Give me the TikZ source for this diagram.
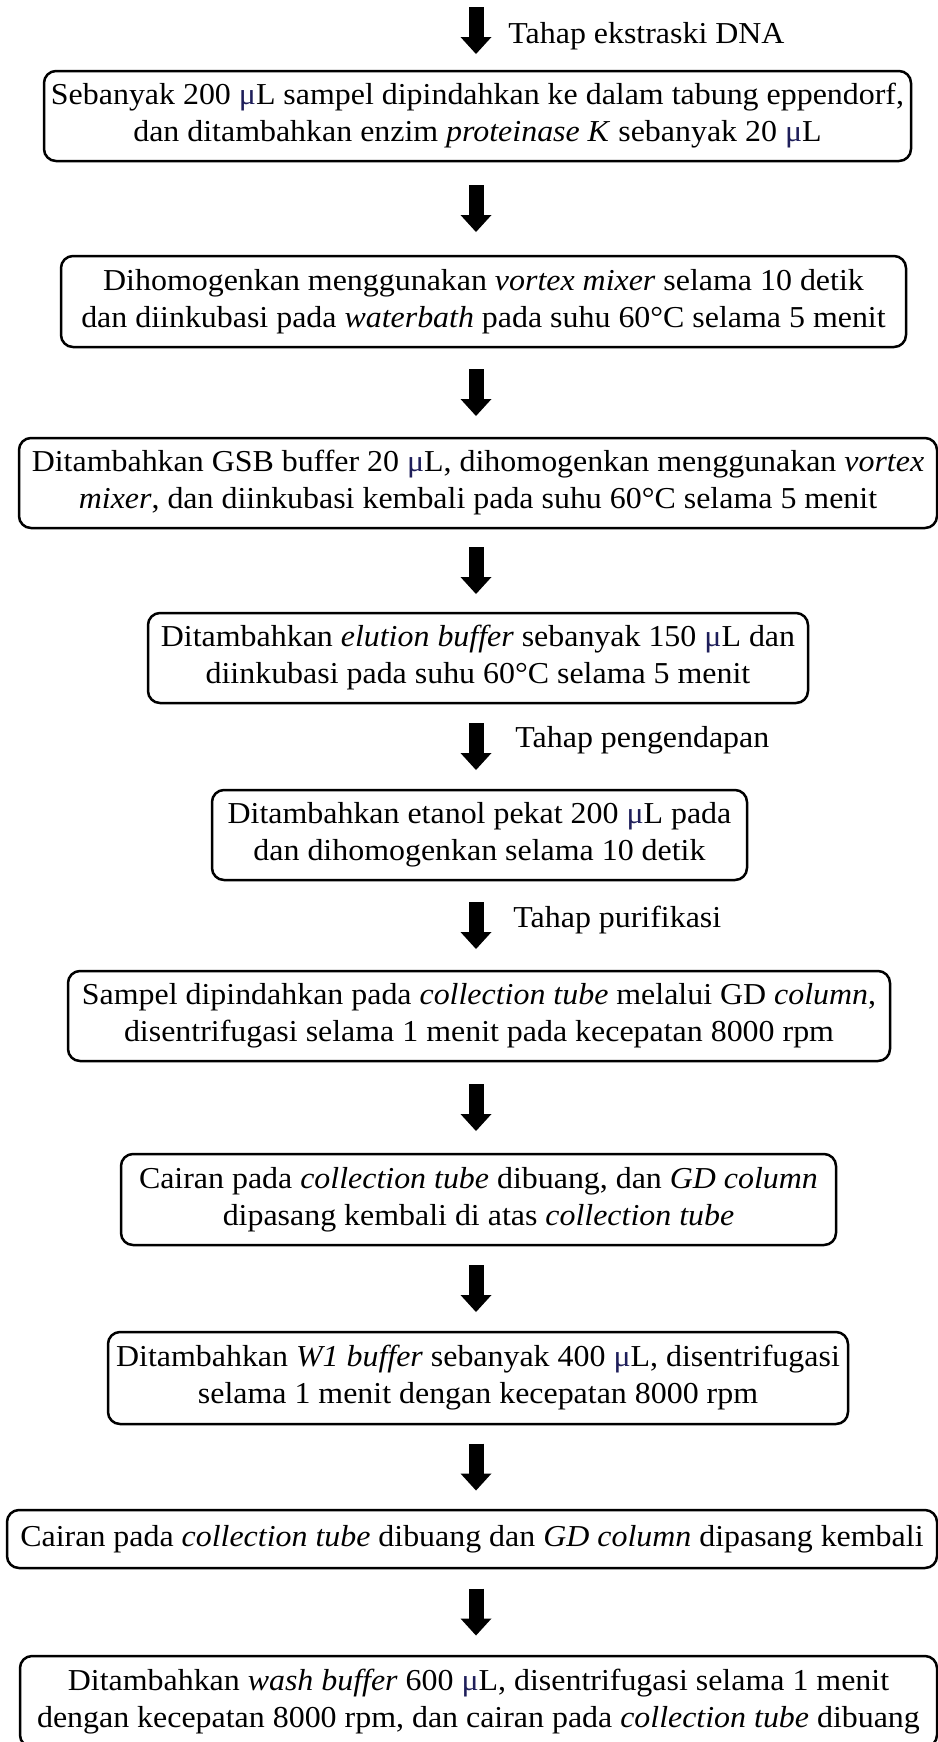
\documentclass[tikz,border=0pt]{standalone}
\usepackage{fontspec}
\setmainfont{Liberation Serif}[FakeStretch=1.05]
\usetikzlibrary{
  calc,
  positioning,
  arrows.meta}
\definecolor{muink}{RGB}{30,30,90}
\newcommand{\uL}{{\color{muink}μ}L}

\begin{document}
\begin{tikzpicture}[
  x=0.5pt,y=-0.5pt,
  >={Triangle[length=8.5pt,width=15.5pt,line width=0pt]},
  every node/.style={align=center,inner sep=0pt,font=\fontsize{15.2}{18.5}\selectfont},
  stepbox/.style={draw,line width=1.25pt,rounded corners=6pt,minimum height=45pt},
  flow/.style={->,line width=7.5pt}
]%
  \useasboundingbox (0,0) rectangle (938,1742);
  \coordinate (ax) at (476,0);
  \coordinate (start) at (476,7);

  \node (b1) [stepbox,minimum width=433.5pt] at (477.5,116)
    {Sebanyak 200 \uL{} sampel dipindahkan ke dalam tabung eppendorf,\\
     dan ditambahkan enzim \textit{proteinase K} sebanyak 20 \uL};
  \node (b2) [stepbox,minimum width=422.5pt,minimum height=45.5pt] at (483.5,301.5)
    {Dihomogenkan menggunakan \textit{vortex mixer} selama 10 detik\\
     dan diinkubasi pada \textit{waterbath} pada suhu 60°C selama 5 menit};
  \node (b3) [stepbox,minimum width=459pt] at (478,483)
    {Ditambahkan GSB buffer 20 \uL, dihomogenkan menggunakan \textit{vortex}\\
     \textit{mixer}, dan diinkubasi kembali pada suhu 60°C selama 5 menit};
  \node (b4) [stepbox,minimum width=330pt] at (478,658)
    {Ditambahkan \textit{elution buffer} sebanyak 150 \uL{} dan\\
     diinkubasi pada suhu 60°C selama 5 menit};
  \node (b5) [stepbox,minimum width=267.5pt] at (479.5,835)
    {Ditambahkan etanol pekat 200 \uL{} pada\\
     dan dihomogenkan selama 10 detik};
  \node (b6) [stepbox,minimum width=411pt] at (479,1016)
    {Sampel dipindahkan pada \textit{collection tube} melalui GD \textit{column},\\
     disentrifugasi selama 1 menit pada kecepatan 8000 rpm};
  \node (b7) [stepbox,minimum width=357.5pt,minimum height=45.5pt] at (478.5,1199.5)
    {Cairan pada \textit{collection tube} dibuang, dan \textit{GD column}\\
     dipasang kembali di atas \textit{collection tube}};
  \node (b8) [stepbox,minimum width=370pt,minimum height=46pt] at (478,1378)
    {Ditambahkan \textit{W1 buffer} sebanyak 400 \uL, disentrifugasi\\
     selama 1 menit dengan kecepatan 8000 rpm};
  \node (b9) [stepbox,minimum width=465pt,minimum height=29pt] at (472,1539)
    {Cairan pada \textit{collection tube} dibuang dan \textit{GD column} dipasang kembali};
  \node (b10) [stepbox,minimum width=458.5pt,minimum height=45.5pt] at (478.5,1701.5)
    {Ditambahkan \textit{wash buffer} 600 \uL, disentrifugasi selama 1 menit\\
     dengan kecepatan 8000 rpm, dan cairan pada \textit{collection tube} dibuang};

  \draw[flow] (start) -- ++(0,47);
  \foreach \a/\b in {b1/b2,b2/b3,b3/b4,b4/b5,b5/b6,b6/b7,b7/b8,b8/b9,b9/b10}
    \draw[flow] ($(\a.south -| ax)!.5!(\b.north -| ax)$) +(0,-23.5) -- +(0,23.5);

  \node (t1) [anchor=base west] at (508,43) {Tahap ekstraski DNA};
  \node (t2) [anchor=base west] at (515,747) {Tahap pengendapan};
  \node (t3) [anchor=base west] at (513,927) {Tahap purifikasi};
\end{tikzpicture}
\end{document}
